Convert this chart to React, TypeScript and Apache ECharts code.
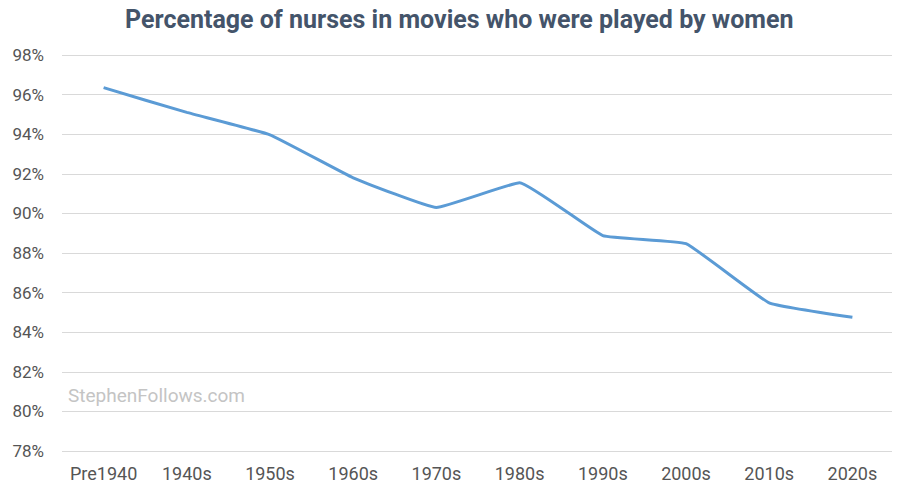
import React, { useEffect, useRef } from "react";
import * as echarts from "echarts";

const categories = ["Pre1940", "1940s", "1950s", "1960s", "1970s", "1980s", "1990s", "2000s", "2010s", "2020s"];
const values = [96.35, 95.1, 93.97, 91.8, 90.3, 91.55, 88.88, 88.47, 85.48, 84.75];
const yMin = 78;
const yMax = 98;
const yStep = 2;

export default function App() {
  const ref = useRef<HTMLDivElement>(null);
  useEffect(() => {
    if (!ref.current) return;
    const chart = echarts.init(ref.current, null, { renderer: "svg" });
    chart.setOption({
      animation: false,
      backgroundColor: "#ffffff",
      title: {
        text: "Percentage of nurses in movies who were played by women",
        left: 120,
        top: 2,
        textStyle: { fontFamily: "Roboto", fontWeight: "bold", fontSize: 25, color: "#44546a" },
      },
      graphic: [
        {
          type: "text",
          left: 68,
          top: 386,
          style: { text: "StephenFollows.com", fontFamily: "Roboto", fontSize: 19, fill: "#c4c4c4" },
        },
      ],
      grid: { left: 62, right: 6, top: 55, bottom: 40 },
      xAxis: {
        type: "category",
        data: categories,
        boundaryGap: true,
        axisLine: { show: false },
        axisTick: { show: false },
        axisLabel: { fontFamily: "Roboto", fontSize: 18, color: "#555555", margin: 13, interval: 0, hideOverlap: false },
      },
      yAxis: {
        type: "value",
        min: yMin,
        max: yMax,
        interval: yStep,
        axisLine: { show: false },
        axisTick: { show: false },
        axisLabel: {
          fontFamily: "Roboto",
          fontSize: 17,
          color: "#555555",
          margin: 18,
          formatter: (v: number) => `${v}%`,
        },
        splitLine: { lineStyle: { color: "#d9d9d9", width: 1 } },
      },
      series: [
        {
          type: "line",
          data: values,
          symbol: "none",
          lineStyle: { color: "#5b9bd5", width: 3 },
          smooth: 0.1,
        },
      ],
    });
    return () => chart.dispose();
  }, []);
  return <div ref={ref} style={{ width: 900, height: 491, margin: -8 }} />;
}
